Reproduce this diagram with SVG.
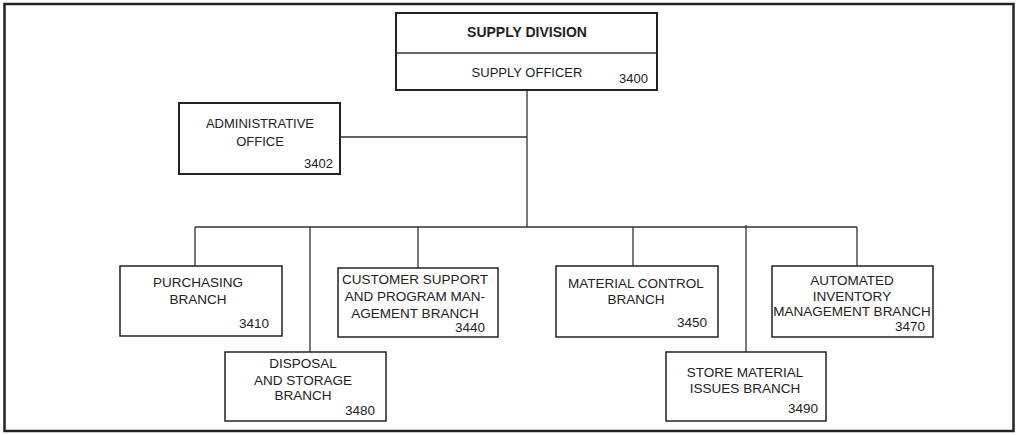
<svg xmlns="http://www.w3.org/2000/svg" width="1018" height="435" viewBox="0 0 1018 435">
<style>
.box{fill:#fff;stroke:#222;stroke-width:1.5}
.bx2{fill:#fff;stroke:#222;stroke-width:2}
.ln{fill:none;stroke:#333;stroke-width:1.3}
text{font-family:"Liberation Sans",Arial,sans-serif;fill:#222;font-size:13.5px}
.c{text-anchor:middle}
.r{text-anchor:end}
.b{font-weight:bold;font-size:14px}
.s{font-size:13px}
</style>
<rect x="4.5" y="4" width="1009" height="427" fill="#fff" stroke="#222" stroke-width="2.5"/>
<g id="connectors">
<path class="ln" d="M527 90V227M340 137H527M195 227H857M195 227V266M310 227V352M418 227V268M633 227V266M746 225V352M857 227V266"/>
</g>
<g id="supply-division">
<rect class="bx2" x="396" y="13" width="261" height="77"/>
<line x1="396" y1="53" x2="657" y2="53" stroke="#333" stroke-width="1.5"/>
<text class="c b" x="527" y="37">SUPPLY DIVISION</text>
<text class="c s" x="527" y="77">SUPPLY OFFICER</text>
<text class="r s" x="648" y="83">3400</text>
</g>
<g id="administrative-office">
<rect class="bx2" x="179" y="103" width="161" height="71"/>
<text class="c s" x="260" y="128">ADMINISTRATIVE</text>
<text class="c s" x="260" y="146">OFFICE</text>
<text class="r s" x="333" y="168">3402</text>
</g>
<g id="purchasing">
<rect class="box" x="120" y="266" width="162" height="70"/>
<text class="c" x="198" y="287">PURCHASING</text>
<text class="c" x="198" y="304">BRANCH</text>
<text class="r" x="269" y="328">3410</text>
</g>
<g id="customer-support">
<rect class="box" x="338" y="268" width="160" height="69"/>
<text class="c" x="415" y="284">CUSTOMER SUPPORT</text>
<text class="c" x="415" y="301">AND PROGRAM MAN-</text>
<text class="c" x="415" y="318">AGEMENT BRANCH</text>
<text class="r" x="485" y="332">3440</text>
</g>
<g id="disposal">
<rect class="box" x="225" y="352" width="161" height="69"/>
<text class="c" x="303" y="368">DISPOSAL</text>
<text class="c" x="303" y="385">AND STORAGE</text>
<text class="c" x="303" y="400">BRANCH</text>
<text class="r" x="375" y="415">3480</text>
</g>
<g id="material-control">
<rect class="box" x="556" y="266" width="162" height="71"/>
<text class="c" x="636" y="288">MATERIAL CONTROL</text>
<text class="c" x="636" y="304">BRANCH</text>
<text class="r" x="707" y="327">3450</text>
</g>
<g id="store-material">
<rect class="box" x="666" y="352" width="160" height="69"/>
<text class="c" x="745" y="377">STORE MATERIAL</text>
<text class="c" x="745" y="393">ISSUES BRANCH</text>
<text class="r" x="818" y="413">3490</text>
</g>
<g id="automated-inventory">
<rect class="box" x="772" y="266" width="161" height="71"/>
<text class="c" x="852" y="285">AUTOMATED</text>
<text class="c" x="852" y="301">INVENTORY</text>
<text class="c" x="852" y="316">MANAGEMENT BRANCH</text>
<text class="r" x="925" y="331">3470</text>
</g>
</svg>
